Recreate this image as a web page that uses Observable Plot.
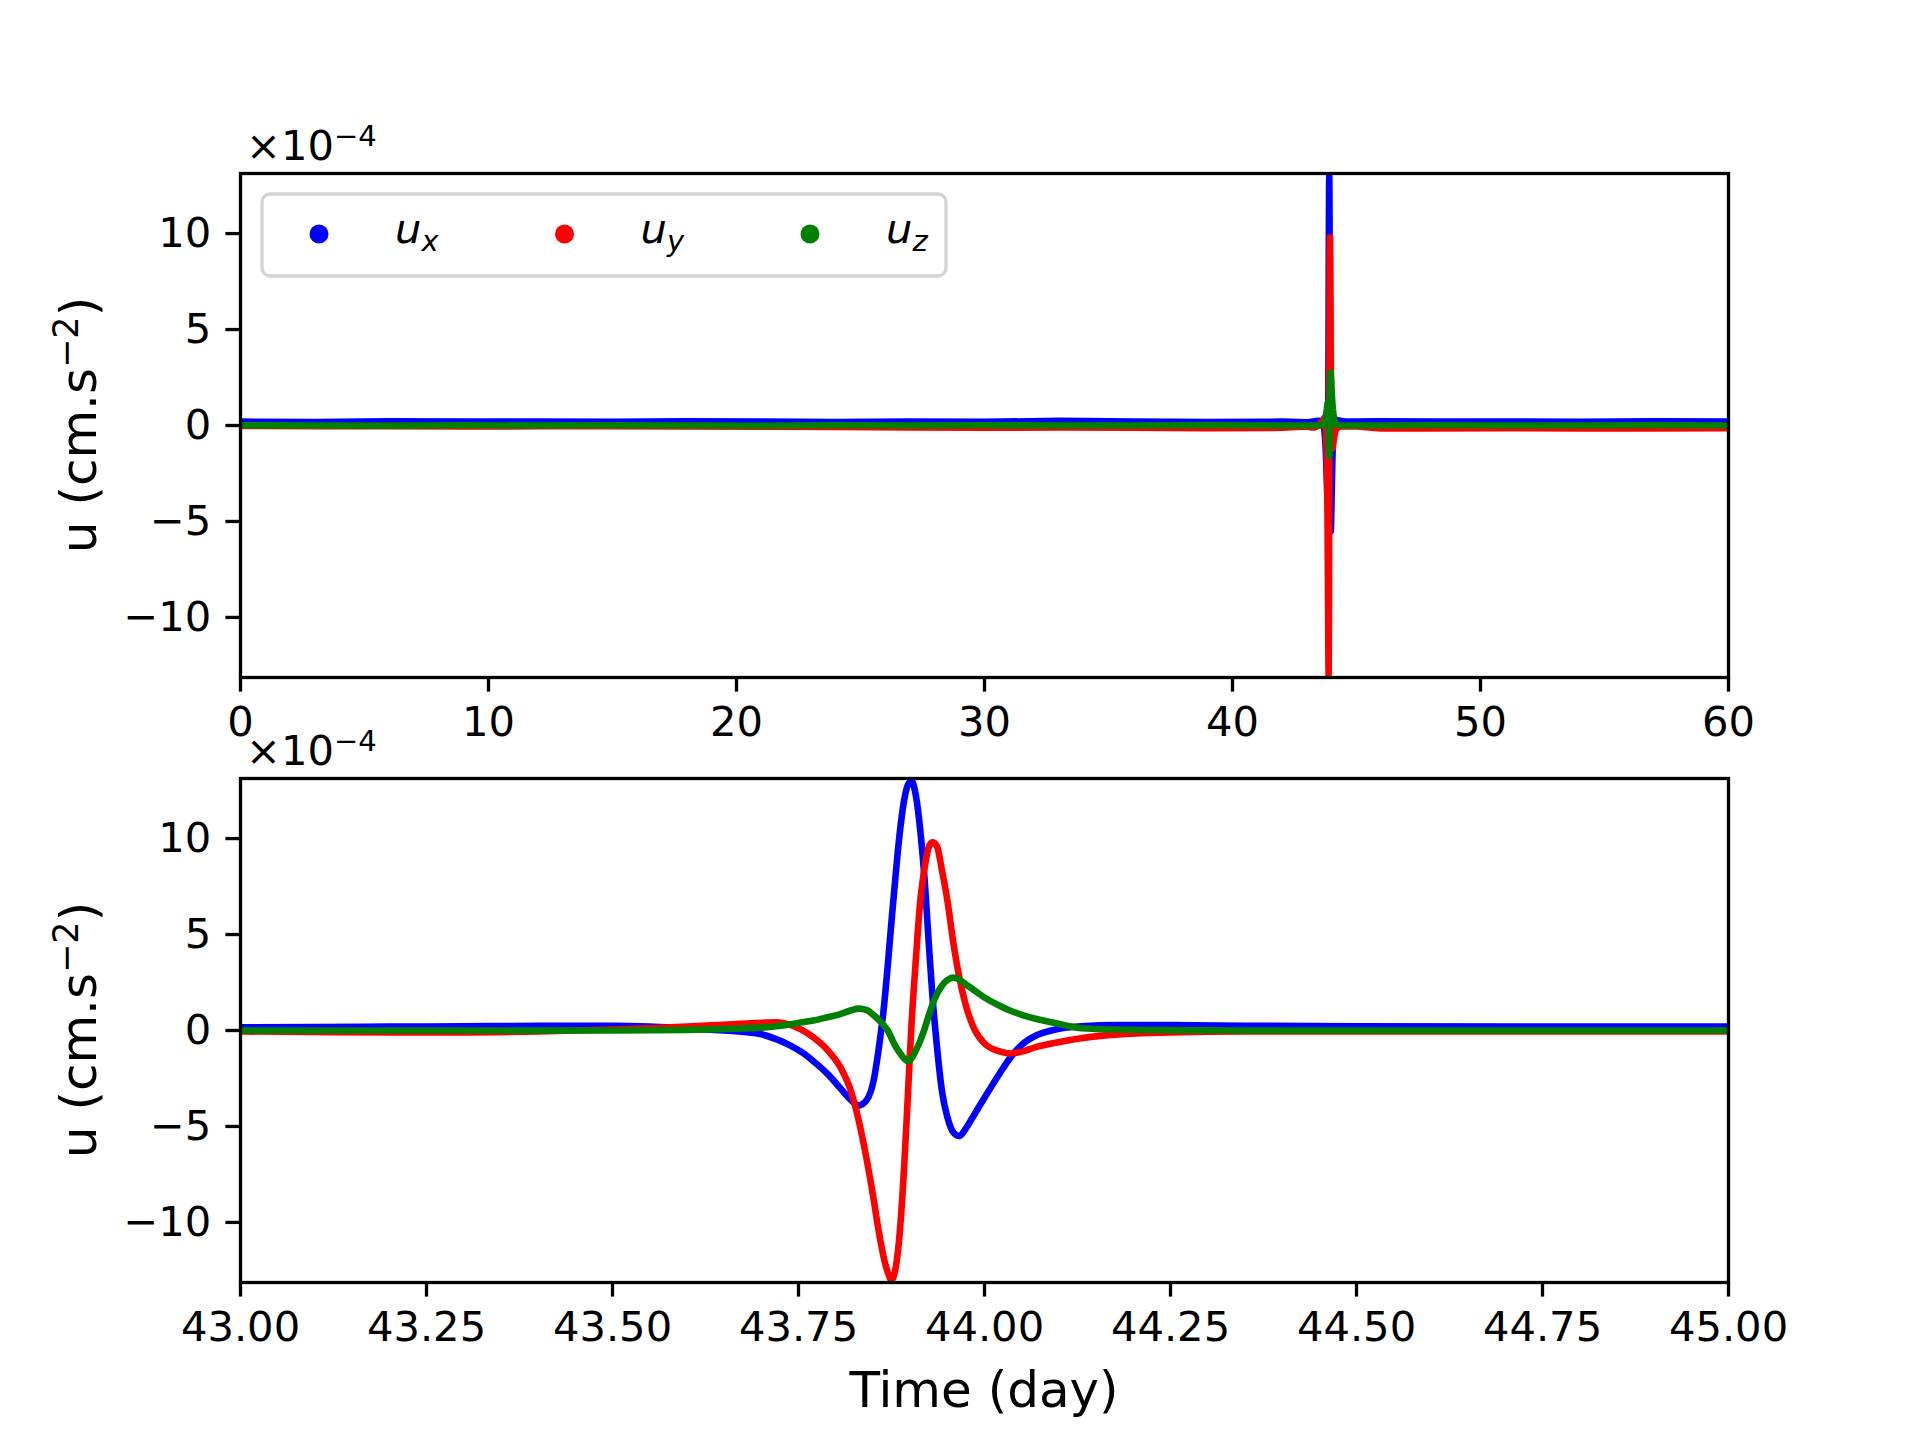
<!DOCTYPE html>
<html><head><meta charset="utf-8">
<script src="https://cdn.jsdelivr.net/npm/d3@7"></script>
<script src="https://cdn.jsdelivr.net/npm/@observablehq/plot@0.6"></script>
<style>
html,body{margin:0;padding:0;background:#fff;}
#fig{position:relative;width:1920px;height:1440px;background:#fff;overflow:hidden;}
#fig svg{position:absolute;left:0;top:0;}
</style></head>
<body><div id="fig"></div>
<script>
// ---- data (units of 1e-4 cm.s^-2) ----
const zoomDays = [43.00,43.10,43.20,43.30,43.40,43.50,43.55,43.60,43.65,43.70,
  43.72,43.74,43.755,43.77,43.79,43.806,43.82,43.831,43.842,43.851,
  43.858,43.865,43.870,43.875,43.878,43.885,43.892,43.897,43.902,43.907,
  43.914,43.920,43.925,43.930,43.936,43.943,43.950,43.958,43.966,43.975,
  43.986,44.000,44.021,44.035,44.05,44.07,44.09,44.13,44.18,44.25,
  44.35,44.50,44.75,45.00];
const zoomUx = [0.17,0.18,0.20,0.22,0.24,0.24,0.20,0.10,0.00,-0.20,
  -0.45,-0.80,-1.15,-1.60,-2.30,-3.00,-3.60,-3.90,-3.60,-2.60,
  -0.90,1.30,3.40,5.70,7.00,9.90,12.00,12.80,13.00,12.40,
  10.30,7.60,4.60,1.80,-0.80,-3.20,-4.50,-5.30,-5.50,-5.10,
  -4.40,-3.50,-2.20,-1.40,-0.75,-0.25,0.00,0.22,0.28,0.28,
  0.25,0.22,0.20,0.20];
const zoomUy = [-0.05,-0.08,-0.10,-0.10,-0.05,0.05,0.12,0.20,0.30,0.40,
  0.43,0.28,0.02,-0.36,-1.06,-1.90,-3.10,-4.70,-6.80,-8.80,
  -10.50,-11.90,-12.60,-13.00,-12.80,-11.00,-7.10,-3.40,0.40,3.30,
  6.90,8.60,9.55,9.80,9.60,8.30,6.80,4.60,2.80,1.30,
  0.10,-0.68,-1.10,-1.20,-1.10,-0.85,-0.68,-0.40,-0.20,-0.10,
  -0.05,-0.05,-0.05,-0.05];
const zoomUz = [0.00,0.00,0.00,0.00,0.00,0.00,0.01,0.03,0.08,0.15,
  0.22,0.33,0.43,0.52,0.70,0.85,1.04,1.14,1.06,0.80,
  0.55,0.25,0.00,-0.40,-0.65,-1.10,-1.45,-1.60,-1.45,-1.10,
  -0.50,0.15,0.78,1.35,1.90,2.35,2.62,2.76,2.65,2.40,
  2.10,1.72,1.28,1.03,0.82,0.60,0.43,0.12,0.05,0.02,
  0.00,0.00,0.00,0.00];

const baseDays = [0,3,6,9,12,15,18,21,24,27,30,33,36,39,42,46,48,51,54,57,60];
const baseUx = [0.20,0.18,0.22,0.20,0.21,0.19,0.22,0.20,0.18,0.21,0.19,0.24,0.20,0.18,0.20,0.22,0.20,0.21,0.19,0.22,0.20];
const baseUy = [-0.02,-0.04,-0.03,-0.05,-0.04,-0.03,-0.05,-0.06,-0.08,-0.10,-0.12,-0.10,-0.12,-0.14,-0.12,-0.15,-0.16,-0.14,-0.16,-0.15,-0.14];
const baseUz = [0.01,0,-0.01,0.01,0,0.01,0,-0.01,0.01,0,0.01,0,0,0.01,0,0,0.01,0,0,0.01,0];

const seriesNames = ["x", "y", "z"];
const seriesColors = ["#0000ff", "#ff0000", "#008000"];
const topXTicks = [0,10,20,30,40,50,60];
const bottomXTicks = [43.00,43.25,43.50,43.75,44.00,44.25,44.50,44.75,45.00];
const yTicks = [-10,-5,0,5,10];
const yDomain = [-13.13, 13.13];

// ---- build tables ----
function rows(days, vals) { return days.map((t, i) => ({t, v: vals[i]})); }
const zoomSeries = [zoomUx, zoomUy, zoomUz];
const baseSeries = [baseUx, baseUy, baseUz];
const fullSeries = zoomSeries.map((zs, k) => {
  const r = [];
  baseDays.forEach((d, i) => { if (d < 43) r.push({t: d, v: baseSeries[k][i]}); });
  zoomDays.forEach((d, i) => r.push({t: d, v: zs[i]}));
  baseDays.forEach((d, i) => { if (d > 45) r.push({t: d, v: baseSeries[k][i]}); });
  return r;
});

const FS = 41.67, TICK = 14.6, PAD = 14.6, SW = 3.3, LW = 6.6;
const fmtY = d => (d < 0 ? "\u2212" : "") + Math.abs(d);
const baseStyle = {fontFamily: "DejaVu Sans", background: "transparent", color: "black", overflow: "visible"};

function axes(xTicks, xFmt) {
  return [
    Plot.axisX({ticks: xTicks, tickFormat: xFmt, tickSize: TICK, tickPadding: PAD, fontSize: FS, strokeWidth: SW, label: null}),
    Plot.axisY({ticks: yTicks, tickFormat: fmtY, tickSize: TICK, tickPadding: PAD, fontSize: FS, strokeWidth: SW, label: null})
  ];
}

const topPlot = Plot.plot({
  width: 1920, height: 760,
  marginLeft: 240, marginRight: 192, marginTop: 173, marginBottom: 83,
  style: baseStyle,
  x: {domain: [0, 60]},
  y: {domain: yDomain},
  marks: [
    ...axes(topXTicks, d => String(d)),
    ...fullSeries.map((s, k) => Plot.line(s, {x: "t", y: "v", stroke: seriesColors[k], strokeWidth: LW, strokeLinejoin: "round", clip: true})),
    Plot.frame({stroke: "black", strokeWidth: SW})
  ]
});

const botPlot = Plot.plot({
  width: 1920, height: 1440,
  marginLeft: 240, marginRight: 192, marginTop: 778, marginBottom: 158,
  style: baseStyle,
  x: {domain: [43, 45]},
  y: {domain: yDomain},
  marks: [
    ...axes(bottomXTicks, d3.format(".2f")),
    ...zoomSeries.map((vals, k) => Plot.line(rows(zoomDays, vals), {x: "t", y: "v", stroke: seriesColors[k], strokeWidth: LW, curve: "monotone-x", strokeLinejoin: "round", clip: true})),
    Plot.frame({stroke: "black", strokeWidth: SW})
  ]
});

const fig = document.getElementById("fig");
fig.appendChild(topPlot);
fig.appendChild(botPlot);

// ---- annotations ----
function offsetText(svg, y) {
  const t = d3.select(svg).append("text").attr("x", 246).attr("y", y).attr("text-anchor", "start")
    .attr("font-family", "DejaVu Sans").attr("font-size", FS).attr("fill", "black");
  t.append("tspan").text("\u00d710");
  t.append("tspan").attr("font-size", 29).attr("dy", -14).text("\u22124");
}
function yLabel(svg, cy) {
  const t = d3.select(svg).append("text").attr("transform", `translate(96,${cy}) rotate(-90)`)
    .attr("text-anchor", "middle").attr("font-family", "DejaVu Sans").attr("font-size", 50).attr("fill", "black");
  t.append("tspan").text("u (cm.s");
  t.append("tspan").attr("font-size", 35).attr("dy", -18).text("\u22122");
  t.append("tspan").attr("dy", 18).text(")");
}
offsetText(topPlot, 160);
offsetText(botPlot, 765);
yLabel(topPlot, 425);
yLabel(botPlot, 1030);
d3.select(botPlot).append("text").attr("x", 984).attr("y", 1407).attr("text-anchor", "middle")
  .attr("font-family", "DejaVu Sans").attr("font-size", 50).attr("fill", "black").text("Time (day)");

// legend
const lg = d3.select(topPlot).append("g");
lg.append("rect").attr("x", 262).attr("y", 194).attr("width", 684).attr("height", 82).attr("rx", 8)
  .attr("fill", "white").attr("fill-opacity", 0.8).attr("stroke", "#d4d4d4").attr("stroke-width", SW);
seriesNames.forEach((n, i) => {
  const x0 = 319 + i * 245.5;
  lg.append("circle").attr("cx", x0).attr("cy", 234).attr("r", 9.5).attr("fill", seriesColors[i]);
  const t = lg.append("text").attr("x", x0 + 76).attr("y", 243).attr("text-anchor", "start")
    .attr("font-family", "DejaVu Sans").attr("font-style", "italic").attr("font-size", FS).attr("fill", "black");
  t.append("tspan").text("u");
  t.append("tspan").attr("font-size", 29).attr("dy", 8).text(n);
});
</script>
</body></html>
